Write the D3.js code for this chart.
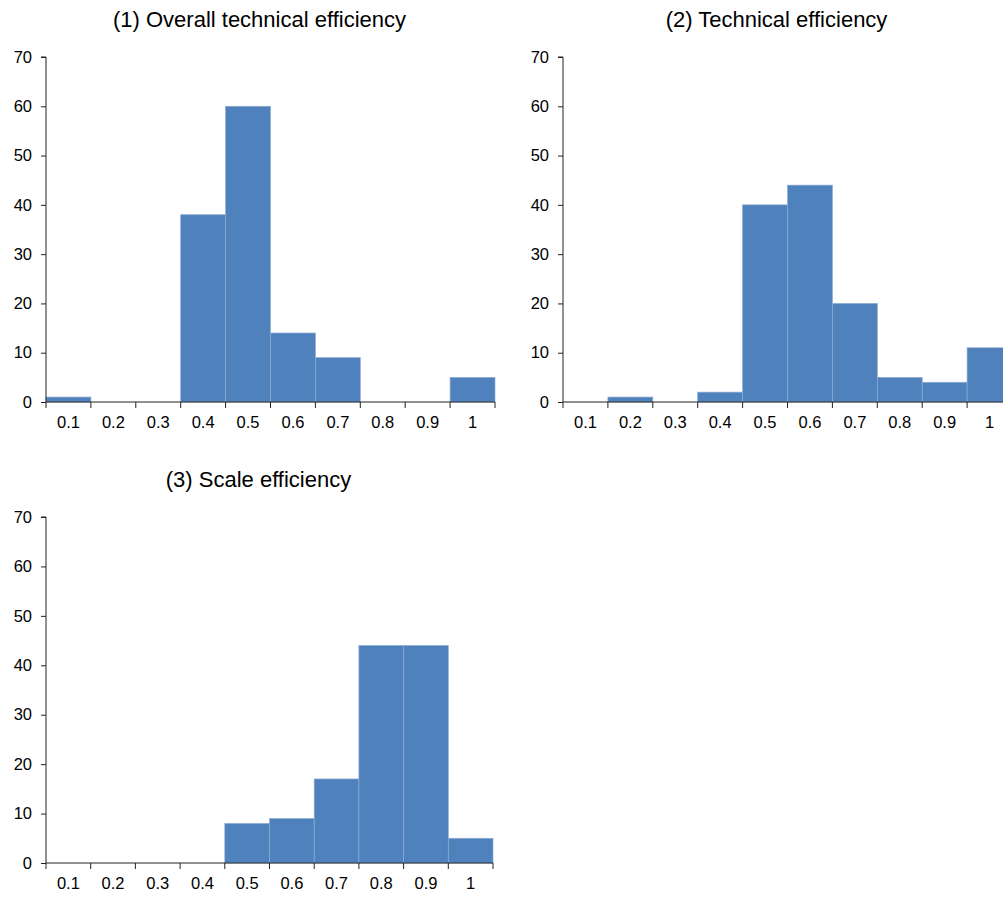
<!DOCTYPE html>
<meta charset="utf-8">
<script src="https://d3js.org/d3.v7.min.js"></script>
<style>
  body { margin: 0; background: #fff; }
  text { font-family: "Liberation Sans", Arial, sans-serif; fill: #000; }
</style>
<div id="chart"></div>
<script>

// bin labels shared by the three histograms
const bins = ["0.1", "0.2", "0.3", "0.4", "0.5", "0.6", "0.7", "0.8", "0.9", "1"];
const yTicks = [0, 10, 20, 30, 40, 50, 60, 70];

// frequencies
const overallTE = [1, 0, 0, 38, 60, 14, 9, 0, 0, 5];
const technicalTE = [0, 1, 0, 2, 40, 44, 20, 5, 4, 11];
const scaleEff = [0, 0, 0, 0, 8, 9, 17, 44, 44, 5];

const titles = ["(1) Overall technical efficiency", "(2) Technical efficiency", "(3) Scale efficiency"];

const svg = d3.select("#chart")
  .append("svg")
  .attr("width", 1003)
  .attr("height", 898);

// panel placement: left/right of plot area, top/bottom
const panels = [
  {values: overallTE,   title: titles[0], x0: 46,  x1: 495,  y0: 57,  y1: 402},
  {values: technicalTE, title: titles[1], x0: 563, x1: 1012, y0: 57,  y1: 402},
  {values: scaleEff,    title: titles[2], x0: 46,  x1: 493,  y0: 517, y1: 863}
];

panels.forEach(function(p) {
  const g = svg.append("g");

  const x = d3.scaleBand()
    .domain(bins)
    .range([p.x0, p.x1])
    .padding(0);

  const y = d3.scaleLinear()
    .domain([0, 70])
    .range([p.y1, p.y0]);

  // title
  g.append("text")
    .attr("x", (p.x0 + p.x1) / 2 - 11)
    .attr("y", p.y0 - 30)
    .attr("text-anchor", "middle")
    .style("font-size", "22px")
    .text(p.title);

  // bars
  g.selectAll("rect")
    .data(p.values.map((v, i) => ({bin: bins[i], v: v})).filter(d => d.v > 0))
    .join("rect")
    .attr("x", d => x(d.bin))
    .attr("y", d => y(d.v))
    .attr("width", x.bandwidth())
    .attr("height", d => y(0) - y(d.v))
    .attr("fill", "#4f81bd")
    .attr("stroke", "#8eabd3")
    .attr("stroke-width", 0.7);

  // y axis
  const yAxis = g.append("g")
    .attr("transform", `translate(${p.x0},0)`)
    .call(d3.axisLeft(y).tickValues(yTicks).tickSize(5).tickPadding(9));
  yAxis.select(".domain").attr("stroke", "#222").attr("d", `M-5,${p.y0}H0V${p.y1}`);
  yAxis.selectAll(".tick line").attr("stroke", "#222");
  yAxis.selectAll("text").style("font-size", "16.5px");

  // x axis: labels centered in bins, tick marks on bin edges
  const xAxis = g.append("g")
    .attr("transform", `translate(0,${p.y1})`)
    .call(d3.axisBottom(x).tickSize(0).tickPadding(14));
  xAxis.select(".domain").attr("stroke", "#222").attr("d", `M${p.x0},0H${p.x1}`);
  xAxis.selectAll("text").style("font-size", "16.5px");

  const edges = bins.map(b => x(b)).concat([p.x1]);
  g.append("g")
    .selectAll("line")
    .data(edges)
    .join("line")
    .attr("x1", d => d)
    .attr("x2", d => d)
    .attr("y1", p.y1)
    .attr("y2", p.y1 + 6)
    .attr("stroke", "#222");
});

</script>
